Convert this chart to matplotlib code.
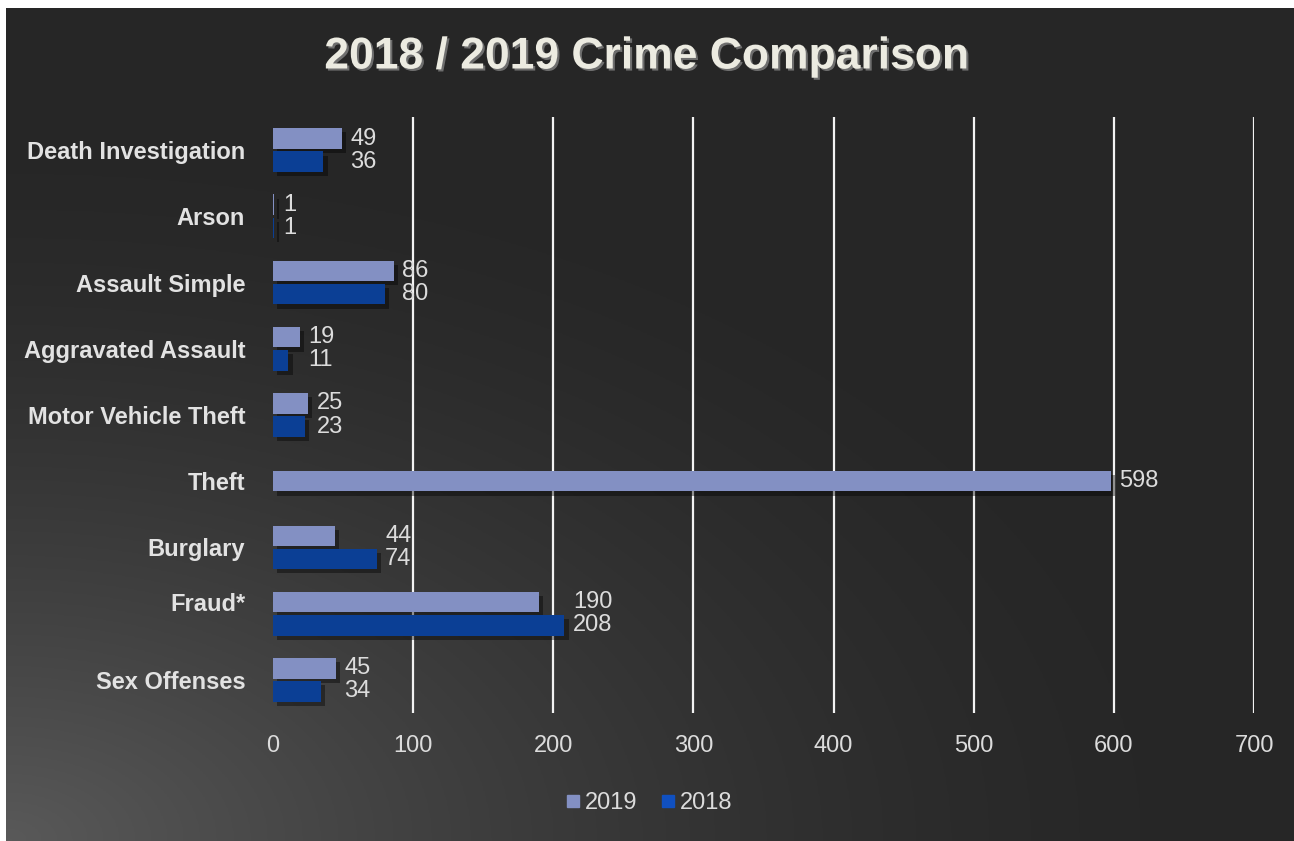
import numpy as np
import matplotlib.pyplot as plt
import matplotlib.patheffects as pe
from matplotlib.lines import Line2D

plt.rcParams['font.family'] = ['Liberation Sans', 'DejaVu Sans']

categories = ['Death Investigation', 'Arson', 'Assault Simple', 'Aggravated Assault',
              'Motor Vehicle Theft', 'Theft', 'Burglary', 'Fraud*', 'Sex Offenses']
crimes_2019 = [49, 1, 86, 19, 25, 598, 44, 190, 45]
crimes_2018 = [36, 1, 80, 11, 23, None, 74, 208, 34]
xticks = [0, 100, 200, 300, 400, 500, 600, 700]

c19 = '#8390c3'
c18 = '#0b3f95'
txt = '#dcdcdc'

fig = plt.figure(figsize=(12.94, 8.41), dpi=100)
fig.patch.set_facecolor('white')

# fondo con degradado (mas claro abajo a la izquierda)
bg = fig.add_axes([6/1294, 0, 1 - 6/1294, 833/841])
xx, yy = np.meshgrid(np.linspace(0, 1, 400), np.linspace(0, 1, 300))
d = np.sqrt((xx * 1.0) ** 2 + ((1 - yy) * 1.1) ** 2)
g = np.clip(1 - d / 0.95, 0, 1) ** 1.6
shade = 0.15 + 0.2 * g
bg.imshow(np.dstack([shade, shade, shade]), aspect='auto', extent=[0, 1, 0, 1],
          origin='upper')
bg.set_axis_off()

ax = fig.add_axes([273/1294, 128/841, (1254-273)/1294, (724-128)/841])
ax.set_facecolor('none')

y = np.arange(len(categories))
h = 0.31
off = 0.175
shadow = [pe.SimplePatchShadow(offset=(3, -3), shadow_rgbFace='black', alpha=0.4), pe.Normal()]
fs = 17

for i, (a, b) in enumerate(zip(crimes_2019, crimes_2018)):
    if b is None:
        y19 = y[i]
    else:
        y19 = y[i] - off
    ax.barh(y19, a, height=h, color=c19, path_effects=shadow, zorder=3)
    lx = max(a, b if b is not None else 0) + 6
    ax.text(lx, y19, str(a), color=txt, fontsize=fs, va='center', ha='left', zorder=4)
    if b is not None:
        ax.barh(y[i] + off, b, height=h, color=c18, path_effects=shadow, zorder=3)
        ax.text(lx, y[i] + off, str(b), color=txt, fontsize=fs, va='center', ha='left', zorder=4)

ax.set_xlim(0, 700)
ax.set_ylim(len(categories) - 0.5, -0.5)
ax.set_xticks(xticks)
ax.set_xticklabels([str(t) for t in xticks], color=txt, fontsize=fs)

# Fraud* queda un poco mas arriba en el original
ypos = [p - 0.18 if c == 'Fraud*' else p for c, p in zip(categories, y)]
ax.set_yticks(ypos)
ax.set_yticklabels(categories, color='#e2e2e2', fontsize=fs, fontweight='bold')
ax.tick_params(axis='y', length=0, pad=20)
ax.tick_params(axis='x', length=0, pad=16)
for s in ax.spines.values():
    s.set_visible(False)
for t in xticks[1:]:
    ax.axvline(t, color='#f2f2f2', linewidth=1.6, zorder=1)

fig.text(0.5, (841-57)/841, '2018 / 2019 Crime Comparison', ha='center', va='center',
         fontsize=32, fontweight='bold', color='#ecebe1',
         path_effects=[pe.SimplePatchShadow(offset=(1.5, -1.5), shadow_rgbFace='#777777', alpha=0.9), pe.Normal()])

handles = [Line2D([], [], marker='s', linestyle='none', color=c19, markersize=8),
           Line2D([], [], marker='s', linestyle='none', color='#1050c0', markersize=8)]
leg = fig.legend(handles, ['2019', '2018'], loc='center', bbox_to_anchor=(0.5, 38/841),
                 ncol=2, frameon=False, fontsize=fs, handletextpad=0.0,
                 columnspacing=0.8, handlelength=1.0)
for t in leg.get_texts():
    t.set_color(txt)

fig.savefig('out.png', dpi=100, facecolor=fig.get_facecolor())
